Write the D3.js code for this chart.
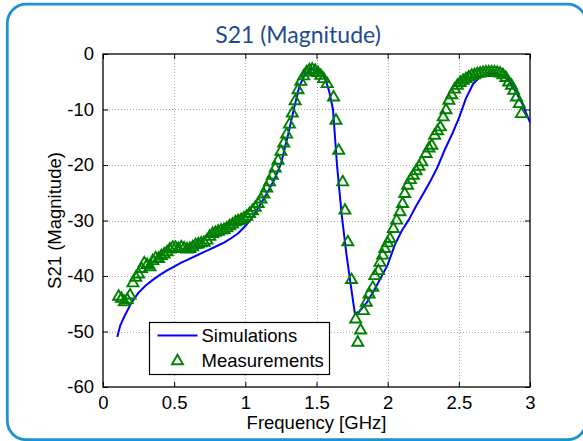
<!DOCTYPE html>
<html>
<head>
<meta charset="utf-8">
<script src="https://cdn.jsdelivr.net/npm/d3@7"></script>
<style>
  html, body { margin: 0; padding: 0; background: #fff; }
  svg { display: block; }
</style>
</head>
<body>
<div id="chart"></div>
<script>
// chart data
const title = "S21 (Magnitude)";
const xLabel = "Frequency [GHz]";
const yLabel = "S21 (Magnitude)";
const xTicks = [0, 0.5, 1, 1.5, 2, 2.5, 3];
const yTicks = [0, -10, -20, -30, -40, -50, -60];
const seriesNames = ["Simulations", "Measurements"];

const simFreq = [0.10, 0.12, 0.15, 0.20, 0.25, 0.30, 0.35, 0.40, 0.45, 0.50, 0.55, 0.60, 0.65, 0.70, 0.75, 0.80,
  0.85, 0.90, 0.95, 1.00, 1.05, 1.10, 1.15, 1.20, 1.25, 1.30, 1.34, 1.38, 1.42, 1.46, 1.50, 1.53, 1.56, 1.59,
  1.616, 1.644, 1.677, 1.71, 1.74, 1.77, 1.80, 1.85, 1.90, 1.95, 2.00, 2.05, 2.10, 2.15, 2.20, 2.25, 2.30,
  2.35, 2.40, 2.45, 2.50, 2.55, 2.60, 2.65, 2.70, 2.75, 2.80, 2.85, 2.90, 2.95, 3.00];
const simVal = [-51.0, -49.0, -47.3, -44.8, -43.0, -41.7, -40.7, -39.8, -39.0, -38.3, -37.6, -37.0, -36.4, -35.8, -35.2, -34.6,
  -34.0, -33.2, -32.3, -31.0, -29.4, -27.3, -25.2, -22.8, -19.8, -14.6, -10.0, -5.8, -3.6, -2.7, -2.9, -3.4, -4.4, -6.8,
  -10.0, -20.0, -29.0, -36.0, -41.5, -46.8, -46.4, -44.9, -42.8, -40.4, -38.0, -34.4, -31.8, -29.8, -27.4, -25.2, -22.9,
  -20.4, -17.3, -14.6, -11.6, -8.0, -5.4, -4.1, -3.6, -3.4, -3.7, -4.7, -6.8, -9.2, -12.3];

const measFreq = [0.11, 0.13, 0.15, 0.17, 0.19, 0.21, 0.23, 0.25, 0.27, 0.29, 0.31, 0.33, 0.35, 0.37, 0.39, 0.41,
  0.43, 0.45, 0.47, 0.49, 0.51, 0.53, 0.55, 0.57, 0.59, 0.61, 0.63, 0.65, 0.67, 0.69, 0.71, 0.73, 0.75, 0.77,
  0.79, 0.81, 0.83, 0.85, 0.87, 0.89, 0.91, 0.93, 0.95, 0.97, 0.99, 1.01, 1.03, 1.05, 1.07, 1.09, 1.11, 1.13,
  1.15, 1.17, 1.19, 1.21, 1.23, 1.25, 1.27, 1.29, 1.31, 1.33, 1.35, 1.37, 1.39, 1.41, 1.43, 1.45, 1.47, 1.49,
  1.51, 1.53, 1.55, 1.575, 1.62, 1.637, 1.656, 1.684, 1.70, 1.72, 1.746, 1.775, 1.79, 1.81, 1.83, 1.85, 1.87,
  1.895, 1.91, 1.935, 1.946, 1.965, 1.98, 2.00, 2.016, 2.04, 2.063, 2.087, 2.105, 2.12, 2.14, 2.16, 2.18, 2.20,
  2.22, 2.24, 2.27, 2.29, 2.31, 2.33, 2.35, 2.37, 2.39, 2.41, 2.43, 2.45, 2.47, 2.49, 2.51, 2.53, 2.55, 2.57,
  2.59, 2.61, 2.63, 2.65, 2.67, 2.69, 2.71, 2.73, 2.75, 2.77, 2.79, 2.81, 2.83, 2.85, 2.87, 2.885, 2.905, 2.925, 2.94];
const measVal = [-43.6, -44.0, -44.6, -44.2, -43.4, -41.2, -40.2, -39.6, -38.6, -37.6, -37.9, -38.3, -37.2, -36.7, -36.8, -36.3,
  -36.0, -35.6, -35.1, -34.8, -34.8, -35.0, -34.7, -34.9, -35.1, -35.0, -34.7, -34.3, -34.2, -34.0, -33.9, -33.5, -32.8, -32.3,
  -32.1, -31.9, -31.7, -31.6, -31.3, -30.9, -30.6, -30.2, -30.0, -29.8, -29.5, -29.2, -28.7, -28.2, -27.6, -26.9, -26.1, -25.2,
  -24.1, -23.0, -21.8, -20.5, -19.1, -17.5, -16.0, -14.4, -12.6, -10.6, -8.4, -6.4, -4.9, -3.9, -3.2, -2.8, -2.7, -2.9,
  -3.3, -3.8, -4.4, -5.3, -7.7, -11.9, -17.3, -23.0, -28.1, -33.8, -40.6, -47.7, -51.9, -49.7, -46.2, -44.7, -43.2,
  -42.0, -39.9, -39.0, -37.5, -36.2, -35.0, -34.0, -33.2, -31.4, -29.9, -28.4, -26.9, -25.1, -23.6, -22.6, -21.8, -21.0,
  -20.2, -19.4, -17.9, -16.9, -16.4, -14.6, -13.8, -13.1, -11.3, -10.0, -8.3, -7.3, -6.3, -5.6, -5.1, -4.7, -4.4, -4.1,
  -3.8, -3.7, -3.5, -3.4, -3.3, -3.2, -3.2, -3.2, -3.2, -3.3, -3.4, -3.7, -4.2, -5.0, -5.6, -6.5, -7.7, -8.9, -10.7];

const width = 583, height = 441;
const margin = {top: 54, right: 53, bottom: 54, left: 103};
const font = "'Liberation Sans', Arial, Helvetica, sans-serif";
const fontSize = "18.5px";
const simColor = "#0000ff", measColor = "#008000";

const svg = d3.select("#chart").append("svg")
    .attr("width", width)
    .attr("height", height);

// rounded blue card frame, runs off the right edge
svg.append("rect")
    .attr("x", 7.3)
    .attr("y", 4.2)
    .attr("width", 579)
    .attr("height", 435.5)
    .attr("rx", 19)
    .attr("fill", "#fff")
    .attr("stroke", "#1b93d3")
    .attr("stroke-width", 2.8);

svg.append("text")
    .attr("x", 298)
    .attr("y", 43)
    .attr("text-anchor", "middle")
    .style("font-family", "Lato, 'Noto Sans', sans-serif")
    .style("font-size", "23px")
    .style("fill", "#1d4c8f")
    .text(title);

const x = d3.scaleLinear([0, 3], [margin.left, width - margin.right]);
const y = d3.scaleLinear([-60, 0], [height - margin.bottom, margin.top]);

// grid (dotted)
const grid = svg.append("g")
    .attr("stroke", "#a8a8a8")
    .attr("stroke-width", 1)
    .attr("stroke-dasharray", "1,2");
grid.selectAll("line.gx")
  .data(xTicks.slice(1, -1))
  .join("line")
    .attr("x1", d => Math.round(x(d)) + 0.5)
    .attr("x2", d => Math.round(x(d)) + 0.5)
    .attr("y1", y(0))
    .attr("y2", y(-60));
grid.selectAll("line.gy")
  .data(yTicks.slice(1, -1))
  .join("line")
    .attr("y1", d => Math.round(y(d)) + 0.5)
    .attr("y2", d => Math.round(y(d)) + 0.5)
    .attr("x1", x(0))
    .attr("x2", x(3));

// axes, ticks pointing inwards, box on
const tickLen = 5;
const plain = d => String(d); // keep ASCII hyphen like the original
const axisStyle = g => g
    .call(g => g.select(".domain").remove())
    .call(g => g.selectAll("line").attr("stroke", "#000"))
    .call(g => g.selectAll("text")
        .style("font-family", font)
        .style("font-size", fontSize)
        .attr("fill", "#000"));

svg.append("g")
    .attr("transform", `translate(0,${y(-60)})`)
    .call(d3.axisBottom(x).tickValues(xTicks).tickSize(-tickLen).tickPadding(9).tickFormat(plain))
    .call(axisStyle);
svg.append("g")
    .attr("transform", `translate(0,${y(0)})`)
    .call(d3.axisTop(x).tickValues(xTicks).tickSize(-tickLen).tickFormat(""))
    .call(axisStyle);
svg.append("g")
    .attr("transform", `translate(${x(0)},0)`)
    .call(d3.axisLeft(y).tickValues(yTicks).tickSize(-tickLen).tickPadding(9).tickFormat(plain))
    .call(axisStyle);
svg.append("g")
    .attr("transform", `translate(${x(3)},0)`)
    .call(d3.axisRight(y).tickValues(yTicks).tickSize(-tickLen).tickFormat(""))
    .call(axisStyle);

svg.append("rect")
    .attr("x", x(0))
    .attr("y", y(0))
    .attr("width", x(3) - x(0))
    .attr("height", y(-60) - y(0))
    .attr("fill", "none")
    .attr("stroke", "#000")
    .attr("stroke-width", 1.3);

// axis labels
svg.append("text")
    .attr("x", (x(0) + x(3)) / 2)
    .attr("y", 429)
    .attr("text-anchor", "middle")
    .style("font-family", font)
    .style("font-size", fontSize)
    .text(xLabel);
svg.append("text")
    .attr("transform", `translate(61,${(y(0) + y(-60)) / 2}) rotate(-90)`)
    .attr("text-anchor", "middle")
    .style("font-family", font)
    .style("font-size", fontSize)
    .text(yLabel);

// simulated curve
const line = d3.line()
    .x((d, i) => x(simFreq[i]))
    .y(d => y(d));
svg.append("path")
    .datum(simVal)
    .attr("fill", "none")
    .attr("stroke", simColor)
    .attr("stroke-width", 2)
    .attr("stroke-linejoin", "round")
    .attr("d", line);

// measured points, hollow triangles
const tri = "M0,-5.8L5.5,3.7L-5.5,3.7Z";
svg.append("g")
  .selectAll("path")
  .data(measVal)
  .join("path")
    .attr("transform", (d, i) => `translate(${x(measFreq[i])},${y(d)})`)
    .attr("d", tri)
    .attr("fill", "none")
    .attr("stroke", measColor)
    .attr("stroke-width", 1.9);

// legend
const legend = svg.append("g").attr("transform", "translate(149.5,322.5)");
legend.append("rect")
    .attr("width", 180)
    .attr("height", 52)
    .attr("fill", "#fff")
    .attr("stroke", "#000")
    .attr("stroke-width", 1.2);
legend.append("line")
    .attr("x1", 8).attr("x2", 48)
    .attr("y1", 13).attr("y2", 13)
    .attr("stroke", simColor)
    .attr("stroke-width", 2);
legend.append("path")
    .attr("transform", "translate(28,38)")
    .attr("d", tri)
    .attr("fill", "none")
    .attr("stroke", measColor)
    .attr("stroke-width", 1.9);
legend.selectAll("text")
  .data(seriesNames)
  .join("text")
    .attr("x", 52)
    .attr("y", (d, i) => 19.5 + i * 25)
    .style("font-family", font)
    .style("font-size", fontSize)
    .text(d => d);
</script>
</body>
</html>
